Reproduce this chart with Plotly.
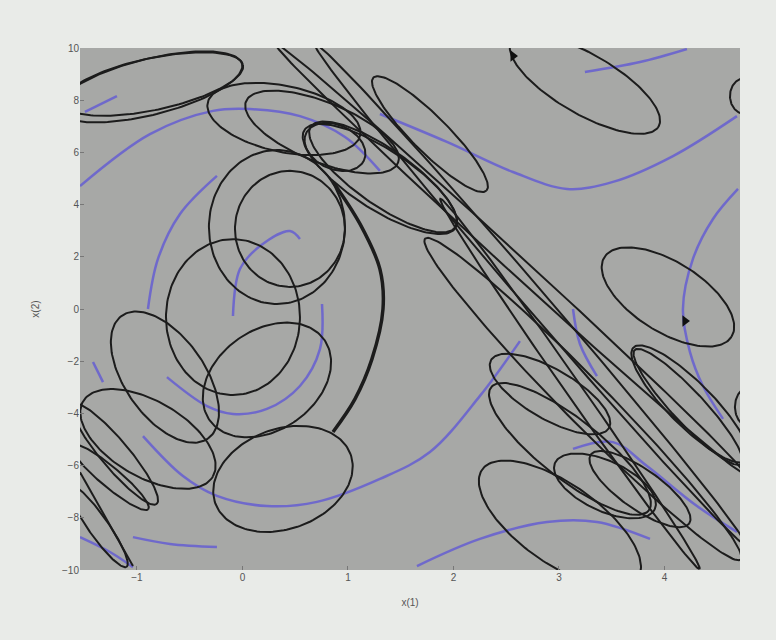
import numpy as np
import plotly.graph_objects as go

# closed trajectories (ellipses): centre, semi-axes (in x(1) units), tilt on screen (deg)
ell_cx = [-0.877, -0.848, 0.393, 0.754, 0.877, 1.303, 1.332, 1.777, 0.327, 0.450,
          -0.090, -0.735, 0.232, 0.384, -0.896, -1.209, -1.256, -1.370, 3.246, 4.763,
          4.033, 4.242, 4.223, 3.227, 2.536, 2.725, 3.104, 2.915, 3.104, 3.436,
          3.768, 3.009, 4.810]
ell_cy = [8.51, 8.62, 7.28, 6.78, 6.21, 4.98, 5.06, 6.70, 3.14, 3.07,
          -0.31, -2.61, -2.72, -6.51, -4.98, -5.56, -6.44, -8.31, 8.62, 8.16,
          0.46, -3.64, -3.75, -3.45, 1.92, 0.57, -2.87, -3.26, -5.36, -6.78,
          -6.90, -8.24, -3.75]
ell_a = [0.900, 0.872, 0.739, 0.777, 0.303, 0.853, 0.834, 0.758, 0.645, 0.521,
         0.635, 0.711, 0.664, 0.682, 0.711, 0.616, 0.474, 0.474, 0.806, 0.142,
         0.711, 0.758, 0.739, 2.133, 3.014, 3.128, 2.142, 0.645, 0.948, 0.521,
         0.569, 0.900, 0.142]
ell_b = [0.265, 0.246, 0.313, 0.284, 0.209, 0.284, 0.265, 0.171, 0.730, 0.550,
         0.739, 0.379, 0.474, 0.474, 0.360, 0.133, 0.095, 0.095, 0.284, 0.171,
         0.332, 0.209, 0.152, 0.209, 0.085, 0.104, 0.076, 0.237, 0.284, 0.237,
         0.190, 0.379, 0.190]
ell_ang = [14, 12, -12, -22, -25, -33, -35, -45, 0, 0,
           0, -55, 35, 20, -30, -50, -40, -55, -30, 0,
           -32, -45, -47, -45.5, -42.5, -49.3, -55, -30, -38, -25,
           -35, -35, 0]

# open black arcs
arc_big_x = [0.858, 1.114, 1.303, 1.332, 1.227, 1.066, 0.858]
arc_big_y = [4.87, 3.26, 1.53, 0.0, -1.92, -3.45, -4.71]
arc_low_x = [-1.540, -1.038]
arc_low_y = [-6.25, -9.85]

# blue trajectories
blue_curves = [
    ([-1.493, -1.190], [7.55, 8.16]),
    ([-1.540, -0.877, -0.280, 0.071, 0.545, 0.972, 1.303],
     [4.71, 6.70, 7.59, 7.66, 7.39, 6.59, 5.29]),
    ([-0.242, -0.592, -0.801, -0.896], [5.10, 3.64, 1.92, 0.0]),
    ([0.545, 0.450, 0.166, -0.024, -0.090], [2.68, 2.99, 2.41, 1.53, -0.27]),
    ([0.754, 0.735, 0.545, 0.232, -0.090, -0.336, -0.716],
     [0.19, -1.53, -2.95, -3.83, -4.02, -3.72, -2.61]),
    ([-1.417, -1.322], [-2.03, -2.80]),
    ([-0.943, -0.564, -0.242, 0.232, 0.706, 1.303, 1.777, 2.251, 2.630],
     [-4.87, -6.40, -7.16, -7.55, -7.39, -6.51, -5.48, -3.33, -1.23]),
    ([-1.038, -0.687, -0.242], [-8.74, -9.00, -9.12]),
    ([-1.540, -1.256, -1.038], [-8.74, -9.31, -9.89]),
    ([1.303, 1.938, 2.564, 3.076, 3.512, 4.081, 4.687],
     [7.47, 6.40, 5.25, 4.60, 4.87, 5.86, 7.39]),
    ([3.246, 3.768, 4.213], [9.08, 9.46, 9.96]),
    ([4.697, 4.460, 4.270, 4.175, 4.242, 4.365, 4.555],
     [4.60, 3.45, 1.92, 0.0, -1.65, -2.95, -4.21]),
    ([3.133, 3.199, 3.360], [0.0, -1.34, -2.57]),
    ([3.133, 3.512, 3.834, 4.308, 4.687], [-5.36, -5.10, -6.02, -7.55, -8.54]),
    ([1.654, 2.251, 2.886, 3.360, 3.863], [-9.85, -8.81, -8.16, -8.16, -8.81]),
]

arrow_x = [2.564, 4.194]
arrow_y = [9.69, -0.46]

x_range = [-1.54, 4.716]
y_range = [-10, 10]
x_ticks = [-1, 0, 1, 2, 3, 4]
y_ticks = [-10, -8, -6, -4, -2, 0, 2, 4, 6, 8, 10]

# plot area is 660 x 522 px, so one x unit on screen equals K y units
K = (660 / (x_range[1] - x_range[0])) / (522 / (y_range[1] - y_range[0]))

t = np.linspace(0, 2 * np.pi, 161)
ex, ey = [], []
for cx, cy, a, b, ang in zip(ell_cx, ell_cy, ell_a, ell_b, ell_ang):
    th = np.radians(ang)
    u = a * np.cos(t)
    v = b * np.sin(t)
    ex += list(cx + u * np.cos(th) - v * np.sin(th)) + [None]
    ey += list(cy + (u * np.sin(th) + v * np.cos(th)) * K) + [None]

fig = go.Figure()

for bx, by in blue_curves:
    fig.add_trace(go.Scatter(x=bx, y=by, mode='lines',
                             line=dict(color='#665fd2', width=2.5, shape='spline'),
                             opacity=0.85, hoverinfo='skip'))

fig.add_trace(go.Scatter(x=ex, y=ey, mode='lines',
                         line=dict(color='#1c1c1c', width=2), hoverinfo='skip'))
fig.add_trace(go.Scatter(x=arc_big_x, y=arc_big_y, mode='lines',
                         line=dict(color='#1c1c1c', width=3.5, shape='spline'),
                         hoverinfo='skip'))
fig.add_trace(go.Scatter(x=arc_low_x, y=arc_low_y, mode='lines',
                         line=dict(color='#1c1c1c', width=2), hoverinfo='skip'))
fig.add_trace(go.Scatter(x=arrow_x, y=arrow_y, mode='markers',
                         marker=dict(symbol='triangle-right', size=10, color='#111111'),
                         hoverinfo='skip'))

fig.update_layout(
    width=776, height=640,
    showlegend=False,
    paper_bgcolor='#e9ebe8',
    plot_bgcolor='#a7a8a6',
    margin=dict(l=80, r=36, t=48, b=70),
    font=dict(family='Liberation Sans, Arial, sans-serif', size=10, color='#555555'),
    xaxis=dict(range=x_range, tickvals=x_ticks, showgrid=False, zeroline=False,
               ticks='inside', ticklen=4, tickcolor='#777777',
               title=dict(text='x(1)', font=dict(size=10), standoff=16)),
    yaxis=dict(range=y_range, tickvals=y_ticks, showgrid=False, zeroline=False,
               ticks='inside', ticklen=4, tickcolor='#777777',
               title=dict(text='x(2)', font=dict(size=10), standoff=20)),
)

# page margin off so the figure sits at the window's top-left corner
page_js = ("document.body.style.margin = '0';"
           "document.body.style.backgroundColor = '#e9ebe8';")

fig.write_html("out.html", post_script=page_js, config={'displayModeBar': False})
